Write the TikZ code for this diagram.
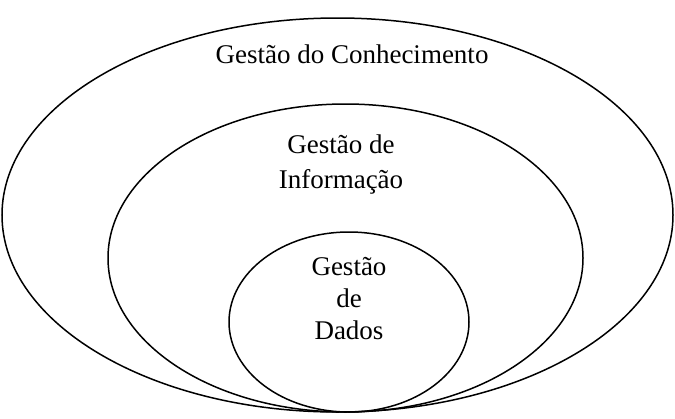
\documentclass[tikz,border=0pt]{standalone}
\usepackage{fontspec}
\setmainfont{Liberation Serif}
\begin{document}
\begin{tikzpicture}[x=1pt,y=-1pt,
  ring/.style={draw=black,line width=1.5pt},
  lbl/.style={font=\fontsize{27}{35}\selectfont,align=center,inner sep=0pt}]
\useasboundingbox (0,0) rectangle (675,418);
\draw[ring] (337.5,215) ellipse [x radius=335.5,y radius=197];
\draw[ring] (345.5,258) ellipse [x radius=237.5,y radius=154];
\draw[ring] (349,322) ellipse [x radius=120,y radius=90];
\node[lbl] (conh) at (352,54) {Gestão do Conhecimento};
\node[lbl] (info) at (341,165) {Gestão de\\Informação};
\node[lbl,font=\fontsize{27}{32}\selectfont] (dados) at (349,299) {Gestão\\de\\Dados};
\end{tikzpicture}
\end{document}
